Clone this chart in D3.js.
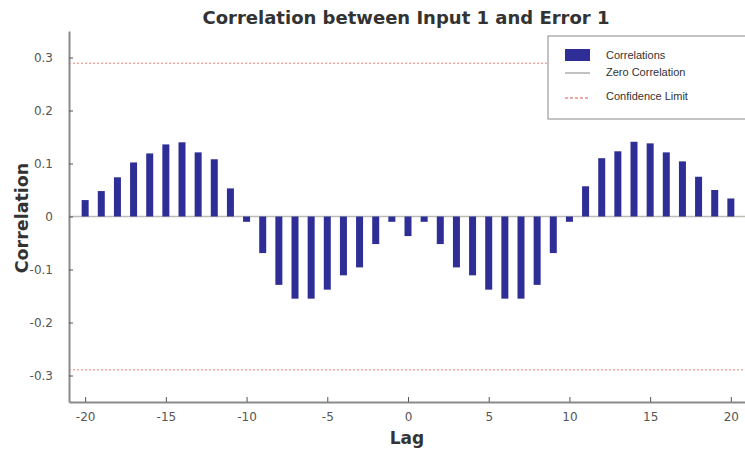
<!DOCTYPE html>
<html><head><meta charset="utf-8">
<script src="https://cdn.jsdelivr.net/npm/d3@7"></script>
<style>body{margin:0;background:#fff}svg{display:block}</style>
</head><body><svg id="c" width="745" height="453"></svg>
<script>
const lags = d3.range(-20, 21);
const correlations = [0.031,0.048,0.074,0.102,0.119,0.136,0.140,0.121,0.108,0.053,
  -0.010,-0.069,-0.129,-0.155,-0.155,-0.138,-0.111,-0.096,-0.052,-0.010,
  -0.037,
  -0.010,-0.052,-0.096,-0.111,-0.138,-0.155,-0.155,-0.129,-0.069,-0.010,
  0.057,0.110,0.123,0.141,0.138,0.121,0.104,0.075,0.050,0.034];
const confidenceLimit = 0.289;
const xTicks = [-20,-15,-10,-5,0,5,10,15,20];
const yTicks = [-0.3,-0.2,-0.1,0,0.1,0.2,0.3];
const xTickLabels = ["-20","-15","-10","-5","0","5","10","15","20"];
const yTickLabels = ["-0.3","-0.2","-0.1","0","0.1","0.2","0.3"];
const legendLabels = ["Correlations","Zero Correlation","Confidence Limit"];
const titleText = "Correlation between Input 1 and Error 1";

const svg = d3.select("#c");
const x = d3.scaleLinear().domain([-21,21]).range([69,747]);
const y = d3.scaleLinear().domain([-0.35,0.35]).range([402,31]);
const axisCol = "#8a8a8a";

// confidence lines
[confidenceLimit,-confidenceLimit].forEach(v=>{
  svg.append("line").attr("x1",x(-21)).attr("x2",x(21)).attr("y1",y(v)).attr("y2",y(v))
    .attr("stroke","#f4aaa4").attr("stroke-width",1.5).attr("stroke-dasharray","2,2");
});
// zero line
svg.append("line").attr("x1",x(-21)).attr("x2",x(21)).attr("y1",y(0)).attr("y2",y(0))
  .attr("stroke","#bcbcb4").attr("stroke-width",1.6);
// bars
const bw = 7;
svg.append("g").selectAll("rect").data(lags).join("rect")
  .attr("x",(d)=>x(d)-bw/2).attr("width",bw)
  .attr("y",(d,i)=>y(Math.max(0,correlations[i])))
  .attr("height",(d,i)=>Math.abs(y(correlations[i])-y(0)))
  .attr("fill","#2e2e96");

// axes
const xa = svg.append("g").attr("transform",`translate(0,${y(-0.35)})`)
  .call(d3.axisBottom(x).tickValues(xTicks).tickSizeInner(-5).tickSizeOuter(0).tickPadding(10)
    .tickFormat((d,i)=>xTickLabels[i]));
const ya = svg.append("g").attr("transform",`translate(${x(-21)},0)`)
  .call(d3.axisLeft(y).tickValues(yTicks).tickSizeInner(-4).tickSizeOuter(0).tickPadding(16)
    .tickFormat((d,i)=>yTickLabels[i]));
[xa,ya].forEach(a=>{
  a.select(".domain").attr("stroke",axisCol).attr("stroke-width",2);
  a.selectAll(".tick line").attr("stroke","#555").attr("stroke-width",1);
  a.selectAll("text").attr("fill","#555").style("font-family","DejaVu Sans").style("font-size","12px");
});

// title & axis labels
svg.append("text").attr("x",406).attr("y",24).attr("text-anchor","middle")
  .style("font-family","DejaVu Sans").style("font-weight","bold").style("font-size","18px").attr("fill","#333")
  .text(titleText);
svg.append("text").attr("x",407).attr("y",444).attr("text-anchor","middle")
  .style("font-family","DejaVu Sans").style("font-weight","bold").style("font-size","17px").attr("fill","#333")
  .text("Lag");
svg.append("text").attr("transform","translate(28,218) rotate(-90)").attr("text-anchor","middle")
  .style("font-family","DejaVu Sans").style("font-weight","bold").style("font-size","17.5px").attr("fill","#333")
  .text("Correlation");

// legend
const lg = svg.append("g");
lg.append("rect").attr("x",548).attr("y",36).attr("width",200).attr("height",83)
  .attr("fill","#fff").attr("stroke","#888").attr("stroke-width",1);
lg.append("rect").attr("x",565).attr("y",49).attr("width",25).attr("height",12).attr("fill","#2e2e96");
lg.append("line").attr("x1",565).attr("x2",590).attr("y1",73).attr("y2",73).attr("stroke","#999").attr("stroke-width",1.2);
lg.append("line").attr("x1",565).attr("x2",590).attr("y1",98).attr("y2",98).attr("stroke","#e05050").attr("stroke-width",1).attr("stroke-dasharray","3,2");
const ly = [55,72,96];
lg.selectAll("text.l").data(legendLabels).join("text").attr("class","l")
  .attr("x",606).attr("y",(d,i)=>ly[i]).attr("dy","0.35em")
  .style("font-family","Liberation Sans Narrow, Liberation Sans").style("font-size","11px").attr("fill","#333")
  .text(d=>d);
</script></body></html>
